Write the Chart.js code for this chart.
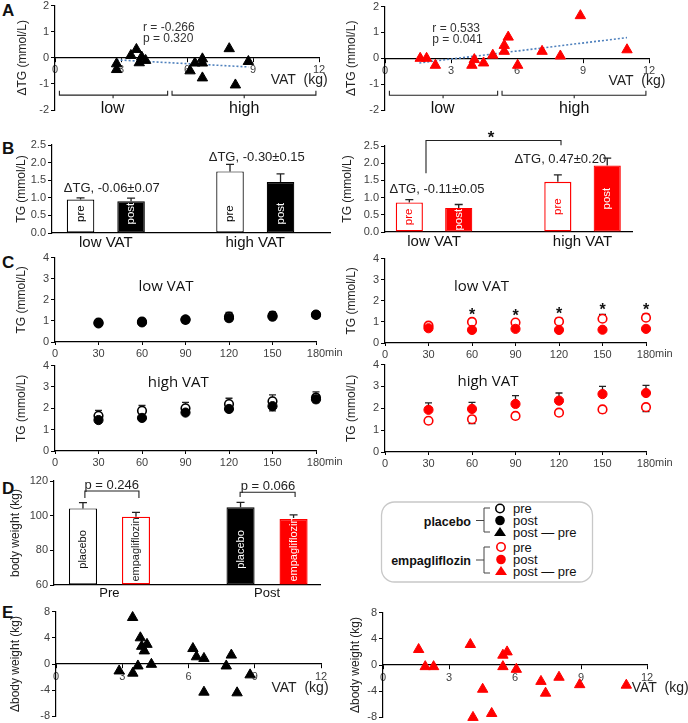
<!DOCTYPE html>
<html>
<head>
<meta charset="utf-8">
<title>TG and body weight vs VAT</title>
<script src="https://cdn.jsdelivr.net/npm/chart.js@4.4.1/dist/chart.umd.min.js"></script>
<style>
  body { margin: 0; background: #fff; }
  #fig { position: relative; width: 688px; height: 723px; overflow: hidden; background: #fff; }
  #fig canvas, #fig svg { position: absolute; }
  svg text { font-family: "Liberation Sans", Arial, sans-serif; fill: #111; }
</style>
</head>
<body>
<div id="fig">
  <svg width="688" height="723" style="left:0;top:0">
    <g font-weight="bold" font-size="17">
      <text x="2" y="16">A</text>
      <text x="2" y="154">B</text>
      <text x="2" y="268">C</text>
      <text x="2" y="494">D</text>
      <text x="2" y="618">E</text>
    </g>
    <rect x="381.5" y="502" width="211" height="80" rx="13" ry="13" fill="none" stroke="#c8c8c8" stroke-width="1.3"/>
    <g font-size="12.5" font-weight="bold" text-anchor="end">
      <text x="471" y="525.5">placebo</text>
      <text x="471" y="564.5">empagliflozin</text>
    </g>
    <g fill="none" stroke="#444" stroke-width="1">
      <path d="M490,508 H484 V532 H490 M484,520.5 H476"/>
      <path d="M490,547 H484 V573 H490 M484,560 H476"/>
    </g>
    <circle cx="500" cy="508.5" r="4.2" fill="#fff" stroke="#000" stroke-width="1.6"/>
    <circle cx="500" cy="520.5" r="4.8" fill="#000"/>
    <polygon points="494,536 506,536 500,527" fill="#000"/>
    <circle cx="501" cy="547" r="4.2" fill="#fff" stroke="#f00" stroke-width="1.6"/>
    <circle cx="501" cy="559.5" r="4.8" fill="#f00"/>
    <polygon points="495,575 507,575 501,566" fill="#f00"/>
    <g font-size="13">
      <text x="513" y="512.5">pre</text>
      <text x="513" y="524.5">post</text>
      <text x="513" y="536.5">post — pre</text>
      <text x="513" y="551.5">pre</text>
      <text x="513" y="563.5">post</text>
      <text x="513" y="575.5">post — pre</text>
    </g>
  </svg>
</div>
<script>
// ---- A: change in TG vs VAT
const vatPlaA = [2.8, 2.8, 3.45, 3.7, 3.83, 3.94, 4.12, 6.14, 6.36, 6.7, 6.7, 6.7, 7.92, 8.2, 8.79];
const dtgPla = [-0.23, -0.45, 0.09, 0.32, -0.19, 0.03, -0.1, -0.5, -0.2, -0.04, -0.2, -0.77, 0.35, -1.04, -0.14];
const vatEmpA = [1.6, 1.89, 2.29, 3.95, 4.06, 4.48, 4.9, 5.42, 5.42, 5.6, 6.03, 7.14, 7.97, 8.88, 11.0];
const dtgEmp = [0, 0, -0.27, -0.27, -0.05, -0.18, 0.12, 0.5, 0.27, 0.82, -0.27, 0.27, 0.09, 1.65, 0.33];
const fitPlaX = [2.8, 8.8], fitPlaY = [-0.08, -0.35];
const fitEmpX = [1.56, 11.0], fitEmpY = [-0.18, 0.8];

// ---- B: fasting TG by VAT group
const vatGroups = ['low VAT', 'high VAT'];
const tgPlaPre = [0.95, 1.75], tgPlaPreSe = [0.05, 0.2];
const tgPlaPost = [0.9, 1.45], tgPlaPostSe = [0.09, 0.23];
const tgEmpPre = [0.86, 1.46], tgEmpPreSe = [0.08, 0.2];
const tgEmpPost = [0.7, 1.93], tgEmpPostSe = [0.1, 0.22];

// ---- C: TG during meal test
const minutes = [30, 60, 90, 120, 150, 180];
const plaLowPre = [0.92, 0.97, 1.05, 1.2, 1.25, 1.28], plaLowPreSe = [0.08, 0.1, 0.1, 0.2, 0.18, 0.15];
const plaLowPost = [0.88, 0.93, 1.07, 1.13, 1.2, 1.3], plaLowPostSe = [0.06, 0.08, 0.08, 0.15, 0.15, 0.12];
const plaHighPre = [1.65, 1.88, 2.0, 2.2, 2.33, 2.5], plaHighPreSe = [0.25, 0.25, 0.28, 0.27, 0.3, 0.27];
const plaHighPost = [1.45, 1.55, 1.8, 1.97, 2.1, 2.42], plaHighPostSe = [0.1, 0.1, 0.12, 0.12, 0.22, 0.15];
const empLowPre = [0.82, 1.0, 0.97, 1.02, 1.15, 1.2], empLowPreSe = [0.08, 0.12, 0.12, 0.15, 0.2, 0.17];
const empLowPost = [0.7, 0.62, 0.67, 0.62, 0.63, 0.67], empLowPostSe = [0.08, 0.06, 0.08, 0.06, 0.06, 0.08];
const empHighPre = [1.43, 1.5, 1.65, 1.8, 1.95, 2.05], empHighPreSe = [0.13, 0.2, 0.13, 0.12, 0.15, 0.2];
const empHighPost = [1.93, 1.97, 2.2, 2.35, 2.65, 2.7], empHighPostSe = [0.32, 0.3, 0.38, 0.35, 0.35, 0.35];
const starMinutes = [60, 90, 120, 150, 180];

// ---- D: body weight
const periods = ['Pre', 'Post'];
const bwPla = [104.2, 104.8], bwPlaSe = [3.3, 2.9];
const bwEmp = [99.4, 98.1], bwEmpSe = [2.5, 2.3];

// ---- E: change in body weight vs VAT
const vatPlaE = [2.86, 3.47, 3.48, 3.71, 3.82, 3.88, 4.0, 4.12, 4.32, 6.2, 6.36, 6.7, 6.7, 7.71, 7.94, 8.2, 8.79];
const dbwPla = [-1.06, 7.1, -1.4, -0.3, 4.0, 2.7, 2.0, 3.0, -0.05, 2.36, 1.1, 0.85, -4.3, -0.3, 1.36, -4.4, -1.66];
const vatEmpE = [1.62, 1.92, 2.3, 3.97, 4.09, 4.53, 4.94, 5.45, 5.45, 5.64, 6.06, 7.18, 7.39, 8.0, 8.94, 11.06];
const dbwEmp = [2.37, -0.25, -0.25, 3.13, -8.0, -3.7, -7.4, 1.5, -0.25, 2.0, -0.66, -2.5, -4.3, -1.87, -3.0, -3.08];

const BLACK = '#000', RED = '#ff0000', BLUE = '#4f81bd';
const FONT = '"Liberation Sans", Arial, sans-serif';

Chart.defaults.font.family = FONT;
Chart.defaults.color = '#333';
Chart.defaults.animation = false;
Chart.defaults.responsive = false;
Chart.defaults.plugins.legend.display = false;
Chart.defaults.plugins.tooltip.enabled = false;

const pts = (xs, ys) => xs.map((x, i) => ({ x, y: ys[i] }));

// error bars from the dataset's errUp / errDown arrays
const errBars = {
  id: 'errBars',
  beforeDatasetsDraw(chart) {
    const { ctx, scales: { y } } = chart;
    const cap = chart.config.options.plugins.errCap || 7;
    ctx.save();
    ctx.strokeStyle = '#222';
    ctx.lineWidth = 1.3;
    chart.data.datasets.forEach((ds, di) => {
      const meta = chart.getDatasetMeta(di);
      [['errUp', 1], ['errDown', -1]].forEach(([key, dir]) => {
        if (!ds[key]) return;
        meta.data.forEach((el, i) => {
          const v = ds.data[i].y;
          const y0 = y.getPixelForValue(v);
          const y1 = y.getPixelForValue(v + dir * ds[key][i]);
          ctx.beginPath();
          ctx.moveTo(el.x, y0);
          ctx.lineTo(el.x, y1);
          ctx.moveTo(el.x - cap / 2, y1);
          ctx.lineTo(el.x + cap / 2, y1);
          ctx.stroke();
        });
      });
    });
    ctx.restore();
  }
};

// free text and bracket lines, placed in data units
const notes = {
  id: 'notes',
  afterDraw(chart) {
    const spec = chart.config.options.plugins.notes;
    if (!spec) return;
    const { ctx, scales: { x, y } } = chart;
    const px = v => x.getPixelForValue(v), py = v => y.getPixelForValue(v);
    ctx.save();
    ctx.lineWidth = 1.1;
    ctx.strokeStyle = '#222';
    (spec.lines || []).forEach(pl => {
      ctx.beginPath();
      pl.forEach(([a, b], i) => i ? ctx.lineTo(px(a), py(b)) : ctx.moveTo(px(a), py(b)));
      ctx.stroke();
    });
    ctx.textBaseline = 'middle';
    (spec.texts || []).forEach(t => {
      ctx.font = t.font || '12px ' + FONT;
      ctx.fillStyle = t.color || '#222';
      ctx.textAlign = t.align || 'center';
      ctx.fillText(t.text, px(t.x) + (t.dx || 0), py(t.y));
    });
    ctx.restore();
  }
};

// rotated labels inside the bars
const barText = {
  id: 'barText',
  afterDatasetsDraw(chart) {
    const spec = chart.config.options.plugins.barText;
    if (!spec) return;
    const { ctx, scales: { y } } = chart;
    chart.data.datasets.forEach((ds, di) => {
      if (!ds.inner) return;
      chart.getDatasetMeta(di).data.forEach((bar, i) => {
        const cy = spec.at != null ? y.getPixelForValue(spec.at) : (bar.y + bar.base) / 2;
        ctx.save();
        ctx.translate(bar.x, cy);
        ctx.rotate(-Math.PI / 2);
        ctx.font = spec.font || '11.5px ' + FONT;
        ctx.fillStyle = Array.isArray(ds.innerColor) ? ds.innerColor[i] : ds.innerColor;
        ctx.textAlign = 'center';
        ctx.textBaseline = 'middle';
        ctx.fillText(ds.inner, 0, 0);
        ctx.restore();
      });
    });
  }
};

Chart.register(errBars, notes, barText);

const fig = document.getElementById('fig');

// area = plot area on the page [left, top, right, bottom]
function makeChart(area, box, config) {
  const [l, t, r, b] = area;
  const w = r - l + box.yw + box.r;
  const h = b - t + box.t + (box.xh || 0) + (box.b || 0);
  const cv = document.createElement('canvas');
  cv.width = w;
  cv.height = h;
  cv.style.cssText = `left:${l - box.yw}px;top:${t - box.t}px;width:${w}px;height:${h}px`;
  fig.appendChild(cv);
  if (config.type === 'scatter') config.data.datasets.forEach(ds => { ds.clip = false; });
  config.options.layout = { padding: { left: 0, top: box.t, right: box.r, bottom: box.b || 0 } };
  config.options.scales.y.afterFit = s => { s.width = box.yw; };
  if (box.xh) config.options.scales.x.afterFit = s => { s.height = box.xh; };
  return new Chart(cv, config);
}

function yAxis(min, max, step, title, fmt) {
  return {
    min, max,
    ticks: { stepSize: step, font: { size: 11 }, color: '#404040', padding: 2,
             callback: fmt ? v => v.toFixed(1) : v => v },
    grid: { drawOnChartArea: false, tickLength: 4, color: '#000' },
    border: { color: '#000', width: 1.2 },
    title: { display: true, text: title, padding: 0, font: { size: 12 }, color: '#222' }
  };
}

function vatAxis() {
  return {
    type: 'linear', position: { y: 0 }, min: 0, max: 12,
    ticks: { stepSize: 3, font: { size: 11 }, color: '#404040', padding: 2 },
    grid: { drawOnChartArea: false, tickLength: 4, color: '#000' },
    border: { color: '#000', width: 1.2 }
  };
}

function minAxis() {
  return {
    type: 'linear', min: 0, max: 180,
    ticks: { stepSize: 30, font: { size: 11 }, color: '#404040', padding: 2 },
    grid: { drawOnChartArea: false, tickLength: 3, color: '#000' },
    border: { color: '#000', width: 1.2 }
  };
}

function groupAxis(min, max, labels, size) {
  return {
    type: 'linear', min, max, offset: false,
    afterBuildTicks: s => { s.ticks = labels.map((_, i) => ({ value: i + 1 })); },
    ticks: { callback: (v, i) => labels[i], font: { size }, color: '#111', padding: 1, autoSkip: false, maxRotation: 0 },
    grid: { display: false, drawTicks: false },
    border: { color: '#000', width: 1.2 }
  };
}

const groupBraces = [
  [[0.2, -1.26], [0.2, -1.43], [5.12, -1.43], [5.12, -1.26]],
  [[2.64, -1.43], [2.64, -1.55]],
  [[5.32, -1.26], [5.32, -1.43], [11.86, -1.43], [11.86, -1.26]],
  [[8.6, -1.43], [8.6, -1.55]]
];
const groupWords = [
  { text: 'low', x: 2.62, y: -1.94, font: '16px ' + FONT, color: '#111' },
  { text: 'high', x: 8.6, y: -1.94, font: '16px ' + FONT, color: '#111' }
];

// ---- A left (placebo)
makeChart([55, 5, 319, 110], { yw: 40, t: 8, r: 16, b: 10 }, {
  type: 'scatter',
  data: { datasets: [
    { data: pts(vatPlaA, dtgPla), pointStyle: 'triangle', radius: 6, backgroundColor: BLACK, borderColor: BLACK, order: 0 },
    { type: 'line', data: pts(fitPlaX, fitPlaY), borderColor: BLUE, borderDash: [2, 2], borderWidth: 1.6, pointRadius: 0, order: 1 }
  ] },
  options: {
    scales: { x: vatAxis(), y: yAxis(-2, 2, 1, 'ΔTG (mmol/L)') },
    plugins: { notes: {
      lines: groupBraces,
      texts: [
        { text: 'r = -0.266', x: 4.0, y: 1.15, align: 'left', color: '#333' },
        { text: 'p = 0.320', x: 4.0, y: 0.73, align: 'left', color: '#333' },
        { text: 'VAT  (kg)', x: 11.1, y: -0.87, font: '14px ' + FONT, color: '#222' }
      ].concat(groupWords)
    } }
  }
});

// ---- A right (empagliflozin)
makeChart([385, 6, 649, 110], { yw: 41, t: 8, r: 20, b: 10 }, {
  type: 'scatter',
  data: { datasets: [
    { data: pts(vatEmpA, dtgEmp), pointStyle: 'triangle', radius: 6, backgroundColor: RED, borderColor: RED, order: 0 },
    { type: 'line', data: pts(fitEmpX, fitEmpY), borderColor: BLUE, borderDash: [2, 2], borderWidth: 1.6, pointRadius: 0, order: 1 }
  ] },
  options: {
    scales: { x: vatAxis(), y: yAxis(-2, 2, 1, 'ΔTG (mmol/L)') },
    plugins: { notes: {
      lines: groupBraces,
      texts: [
        { text: 'r = 0.533', x: 2.15, y: 1.15, align: 'left', color: '#333' },
        { text: 'p = 0.041', x: 2.15, y: 0.73, align: 'left', color: '#333' },
        { text: 'VAT  (kg)', x: 11.45, y: -0.87, font: '14px ' + FONT, color: '#222' }
      ].concat(groupWords)
    } }
  }
});

// ---- B left (placebo)
makeChart([52, 145, 330, 233], { yw: 38, t: 15, r: 8, xh: 24 }, {
  type: 'bar',
  data: { datasets: [
    { data: pts([1, 2], tgPlaPre), backgroundColor: '#fff', borderColor: BLACK, borderWidth: 1.2, borderSkipped: false,
      errUp: tgPlaPreSe, inner: 'pre', innerColor: '#000' },
    { data: pts([1, 2], tgPlaPost), backgroundColor: BLACK, borderColor: BLACK, borderWidth: 1.2, borderSkipped: false,
      errUp: tgPlaPostSe, inner: 'post', innerColor: '#fff' }
  ] },
  options: {
    datasets: { bar: { categoryPercentage: 0.676, barPercentage: 0.545 } },
    scales: { x: groupAxis(0.64, 2.5, vatGroups, 15), y: yAxis(0, 2.5, 0.5, 'TG (mmol/L)', true) },
    plugins: {
      errCap: 8,
      barText: { at: 0.55 },
      notes: { texts: [
        { text: 'ΔTG, -0.06±0.07', x: 1.04, y: 1.27, font: '13px ' + FONT },
        { text: 'ΔTG, -0.30±0.15', x: 2.01, y: 2.15, font: '13px ' + FONT }
      ] }
    }
  }
});

// ---- B right (empagliflozin)
makeChart([385, 146, 632, 232], { yw: 45, t: 32, r: 10, xh: 24 }, {
  type: 'bar',
  data: { datasets: [
    { data: pts([1, 2], tgEmpPre), backgroundColor: '#fff', borderColor: RED, borderWidth: 1.4, borderSkipped: false,
      errUp: tgEmpPreSe, inner: 'pre', innerColor: RED },
    { data: pts([1, 2], tgEmpPost), backgroundColor: RED, borderColor: RED, borderWidth: 1.2, borderSkipped: false,
      errUp: tgEmpPostSe, inner: 'post', innerColor: '#fff' }
  ] },
  options: {
    datasets: { bar: { categoryPercentage: 0.665, barPercentage: 0.55 } },
    scales: { x: groupAxis(0.67, 2.333, vatGroups, 15), y: yAxis(0, 2.5, 0.5, 'TG (mmol/L)', true) },
    plugins: {
      errCap: 8,
      barText: {},
      notes: {
        lines: [[[0.946, 1.71], [0.946, 2.66], [1.855, 2.66], [1.855, 2.52]]],
        texts: [
          { text: 'ΔTG, -0.11±0.05', x: 1.02, y: 1.23, font: '13px ' + FONT },
          { text: 'ΔTG, 0.47±0.20', x: 1.85, y: 2.1, font: '13px ' + FONT },
          { text: '*', x: 1.384, y: 2.72, font: 'bold 17px ' + FONT, color: '#111' }
        ]
      }
    }
  }
});

// ---- C: meal test curves
function curveChart(area, r, pre, preSe, preDir, post, postSe, postDir, color, title, tx, ty, extraTexts) {
  const open = { data: pts(minutes, pre), radius: 4.3, borderWidth: 1.6, backgroundColor: '#fff', borderColor: color };
  const filled = { data: pts(minutes, post), radius: 4.6, borderWidth: 1, backgroundColor: color, borderColor: color };
  open[preDir] = preSe;
  filled[postDir] = postSe;
  return makeChart(area, { yw: 41, t: 8, r, xh: 20 }, {
    type: 'scatter',
    data: { datasets: [filled, open] },
    options: {
      scales: { x: minAxis(), y: yAxis(0, 4, 1, 'TG (mmol/L)') },
      plugins: {
        errCap: 7,
        notes: { texts: [
          { text: title, x: tx, y: ty, font: '15px "Open Sans", ' + FONT, color: '#111' },
          { text: 'min', x: 180, dx: 9, y: -0.52, align: 'left', font: '11px ' + FONT, color: '#404040' }
        ].concat(extraTexts || []) }
      }
    }
  });
}

curveChart([55, 257, 316, 342], 32, plaLowPre, plaLowPreSe, 'errUp', plaLowPost, plaLowPostSe, 'errDown',
  BLACK, 'low VAT', 76.5, 2.6);
curveChart([55, 365, 316, 451], 32, plaHighPre, plaHighPreSe, 'errUp', plaHighPost, plaHighPostSe, 'errDown',
  BLACK, 'high VAT', 85, 3.22);

const stars = starMinutes.map(m => {
  const i = minutes.indexOf(m);
  return { text: '*', x: m, y: empLowPre[i] + empLowPreSe[i] + 0.18, font: 'bold 16px ' + FONT, color: '#111' };
});
curveChart([385, 258, 646, 343], 40, empLowPre, empLowPreSe, 'errUp', empLowPost, empLowPostSe, 'errDown',
  RED, 'low VAT', 66.5, 2.66, stars);
curveChart([385, 364, 646, 452], 40, empHighPre, empHighPreSe, 'errDown', empHighPost, empHighPostSe, 'errUp',
  RED, 'high VAT', 71, 3.23);

// ---- D: body weight
makeChart([54, 481, 320, 585], { yw: 46, t: 12, r: 8, xh: 22 }, {
  type: 'bar',
  data: { datasets: [
    { data: pts([1, 2], bwPla), base: 60, backgroundColor: ['#fff', BLACK], borderColor: BLACK, borderWidth: 1.2, borderSkipped: false,
      errUp: bwPlaSe, inner: 'placebo', innerColor: ['#111', '#fff'] },
    { data: pts([1, 2], bwEmp), base: 60, backgroundColor: ['#fff', RED], borderColor: RED, borderWidth: 1.4, borderSkipped: false,
      errUp: bwEmpSe, inner: 'empagliflozin', innerColor: ['#222', '#fff'] }
  ] },
  options: {
    datasets: { bar: { categoryPercentage: 0.673, barPercentage: 0.53 } },
    scales: { x: groupAxis(0.648, 2.336, periods, 13), y: yAxis(60, 120, 20, 'body weight (kg)') },
    plugins: {
      errCap: 8,
      barText: { at: 80.5, font: '11px ' + FONT },
      notes: {
        lines: [
          [[0.844, 110.2], [0.844, 114.2], [1.187, 114.2], [1.187, 110.2]],
          [[1.829, 110.8], [1.829, 113.5], [2.178, 113.5], [2.178, 110.8]]
        ],
        texts: [
          { text: 'p = 0.246', x: 1.014, y: 117.7, font: '13px ' + FONT },
          { text: 'p = 0.066', x: 2.006, y: 116.7, font: '13px ' + FONT }
        ]
      }
    }
  }
});

// ---- E: change in body weight vs VAT
makeChart([56, 611, 321, 717], { yw: 48, t: 8, r: 10, b: 8 }, {
  type: 'scatter',
  data: { datasets: [
    { data: pts(vatPlaE, dbwPla), pointStyle: 'triangle', radius: 6, backgroundColor: BLACK, borderColor: BLACK }
  ] },
  options: {
    scales: { x: vatAxis(), y: yAxis(-8, 8, 4, 'Δbody weight (kg)') },
    plugins: { notes: { texts: [
      { text: 'VAT  (kg)', x: 11.05, y: -3.67, font: '14px ' + FONT, color: '#222' }
    ] } }
  }
});

makeChart([383, 612, 647, 718], { yw: 35, t: 8, r: 42, b: 8 }, {
  type: 'scatter',
  data: { datasets: [
    { data: pts(vatEmpE, dbwEmp), pointStyle: 'triangle', radius: 6, backgroundColor: RED, borderColor: RED }
  ] },
  options: {
    scales: { x: vatAxis(), y: yAxis(-8, 8, 4, 'Δbody weight (kg)') },
    plugins: { notes: { texts: [
      { text: 'VAT  (kg)', x: 12.6, y: -3.5, font: '14px ' + FONT, color: '#222' }
    ] } }
  }
});
</script>
</body>
</html>
